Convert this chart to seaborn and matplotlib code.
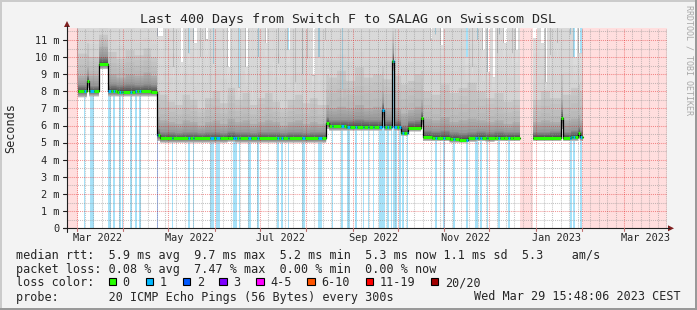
import numpy as np
import pandas as pd
import matplotlib
matplotlib.use("Agg")
import matplotlib.pyplot as plt
import seaborn as sns
from matplotlib.patches import Rectangle, Polygon
from matplotlib.collections import LineCollection
from matplotlib.colors import to_rgb

sns.set_style("white")
plt.rcParams['font.family'] = ['DejaVu Sans Mono', 'DejaVu Sans']

# ---------------- data ----------------
START = "2022-02-22 15:48:06"
TOTAL_DAYS = 400

# smoke / median nodes (day offset from START), step-wise
node_day = [7.3, 13.3, 14.7, 21.3, 27.3, 33, 39, 45, 51, 56,
            60, 62, 67, 72, 77, 82, 87, 92, 97, 102, 107, 112, 117, 122, 127, 132, 137, 142, 147, 152, 157, 162, 167,
            172.7, 174.7, 180, 186, 192, 198, 204, 210, 211.3, 216.7, 218, 222.7, 227.3, 232, 236, 237.3,
            243, 249, 255, 261, 267, 273, 279, 285, 291, 297, 302,
            310.7, 316, 322, 329.3, 330.7, 336, 340.7, 342, 344]
node_med = [8.0, 8.6, 8.0, 9.6, 8.02, 7.98, 7.98, 8.0, 8.0, 7.98,
            5.42, 5.25, 5.25, 5.25, 5.25, 5.25, 5.25, 5.25, 5.25, 5.25, 5.3, 5.25, 5.25, 5.25, 5.25, 5.25, 5.25, 5.25, 5.25, 5.25, 5.25, 5.25, 5.25,
            6.15, 5.95, 5.95, 5.92, 5.92, 5.92, 5.92, 6.9, 5.9, 9.75, 5.9, 5.58, 5.88, 5.88, 6.45, 5.35,
            5.3, 5.3, 5.2, 5.18, 5.25, 5.3, 5.25, 5.3, 5.28, 5.3, np.nan,
            5.3, 5.3, 5.3, 6.45, 5.3, 5.35, 5.55, 5.35, np.nan]
node_min = [7.65, 8.2, 7.7, 9.3, 7.7, 7.7, 7.7, 7.7, 7.7, 7.7,
            5.1, 5.0, 5.0, 5.0, 5.0, 5.0, 5.0, 5.0, 5.0, 5.0, 5.05, 5.0, 5.0, 5.0, 5.0, 5.0, 5.0, 5.0, 5.0, 5.0, 5.0, 5.0, 5.0,
            5.8, 5.7, 5.7, 5.7, 5.7, 5.7, 5.7, 6.3, 5.7, 9.2, 5.7, 5.4, 5.65, 5.65, 6.0, 5.1,
            5.1, 5.1, 5.0, 5.0, 5.05, 5.1, 5.05, 5.1, 5.1, 5.1, np.nan,
            5.1, 5.1, 5.1, 5.8, 5.1, 5.1, 5.2, 5.1, np.nan]
node_q60 = [8.35, 8.9, 8.3, 10.0, 8.4, 8.35, 8.4, 8.35, 8.4, 8.35,
            5.8, 5.6, 5.6, 5.55, 5.6, 5.6, 5.55, 5.6, 5.6, 5.55, 5.65, 5.6, 5.6, 5.55, 5.6, 5.6, 5.6, 5.55, 5.6, 5.6, 5.55, 5.6, 5.6,
            6.5, 6.3, 6.3, 6.3, 6.35, 6.3, 6.3, 7.3, 6.3, 10.2, 6.3, 6.0, 6.25, 6.3, 6.8, 5.7,
            5.65, 5.7, 5.6, 5.55, 5.6, 5.65, 5.6, 5.65, 5.6, 5.6, np.nan,
            5.6, 5.6, 5.65, 6.9, 5.6, 5.7, 5.9, 5.7, np.nan]
node_q75 = [8.9, 9.4, 8.9, 10.6, 9.0, 8.8, 9.0, 8.9, 9.1, 8.9,
            6.5, 6.3, 6.2, 6.1, 6.3, 6.2, 6.0, 6.2, 6.3, 6.1, 6.4, 6.2, 6.3, 6.1, 6.2, 6.3, 6.2, 6.0, 6.2, 6.3, 6.1, 6.2, 6.1,
            7.2, 7.0, 7.1, 7.0, 7.2, 7.0, 7.1, 8.0, 7.0, 10.8, 7.0, 6.7, 6.9, 7.1, 7.5, 6.4,
            6.3, 6.5, 6.2, 6.3, 6.4, 6.3, 6.2, 6.3, 6.1, 6.2, np.nan,
            6.2, 6.3, 6.2, 7.5, 6.3, 6.4, 6.6, 6.3, np.nan]
node_q90 = [10.2, 10.8, 10.0, 11.3, 10.3, 9.9, 10.4, 10.1, 10.5, 10.0,
            8.0, 7.8, 7.4, 7.2, 7.8, 7.5, 7.0, 7.6, 8.0, 7.3, 8.2, 7.5, 7.9, 7.2, 7.6, 7.9, 7.4, 7.0, 7.5, 7.8, 7.3, 7.6, 7.2,
            9.0, 8.8, 9.2, 8.6, 9.4, 8.8, 9.0, 9.5, 8.7, 11.5, 8.9, 8.4, 8.6, 9.0, 9.2, 8.0,
            7.8, 8.4, 7.9, 8.2, 8.5, 8.0, 7.6, 7.9, 7.4, 7.5, np.nan,
            7.5, 8.0, 7.6, 9.0, 7.8, 8.2, 8.4, 8.0, np.nan]

# where the slowest ping stays below the top of the graph: (day, length in days, max ms)
gap_day = [60.0, 65.3, 67.3, 70.7, 75.3, 80.7, 84.0, 88.7, 92.0, 97.3, 103.3, 106.7, 114.0, 118.7, 123.3,
           127.3, 132.0, 137.3, 140.7, 146.7, 152.0, 156.7, 160.0, 163.3, 167.3, 172.0, 183.3,
           242.0, 245.3, 248.7, 265.3, 270.0, 273.3, 276.7, 280.0, 283.3, 286.7, 288.0, 290.7, 296.7, 298.7,
           310.7, 315.3, 318.7, 322.0, 326.7, 335.3, 337.3, 340.7]
gap_len = [4.0, 1.3, 0.7, 0.7, 2.0, 1.3, 2.7, 0.7, 2.0, 0.7, 0.7, 2.0, 1.3, 2.0, 0.7,
           0.7, 1.3, 0.7, 0.7, 2.0, 0.7, 0.7, 0.7, 2.0, 1.3, 0.7, 0.7,
           1.3, 0.7, 2.0, 2.0, 0.7, 0.7, 2.0, 2.0, 2.0, 0.7, 0.7, 2.7, 0.7, 2.0,
           2.7, 3.3, 1.3, 0.7, 0.7, 0.7, 2.7, 2.7]
gap_max = [11.2, 10.4, 11.0, 9.4, 9.7, 10.2, 10.8, 10.0, 11.0, 9.6, 10.4, 9.4, 8.2, 9.4, 8.1,
           10.0, 10.8, 9.7, 9.6, 10.4, 8.5, 9.0, 9.9, 8.9, 10.0, 11.0, 8.1,
           11.0, 11.3, 10.7, 10.0, 9.4, 11.0, 10.4, 9.1, 8.8, 10.2, 11.3, 10.8, 10.2, 10.4,
           11.1, 10.8, 8.5, 10.1, 10.8, 11.3, 10.0, 10.2]

# packet-loss periods with 1 lost ping (day, length)
loss1_day = [11.3, 15.3, 27.1, 30.7, 34.9, 36.7, 42.0, 45.3, 48.2,
             69.8, 80.9, 84.2, 95.3, 99.3, 110.7, 114.7, 120.7, 126.5, 140.2, 142.5, 147.1, 156.5, 167.5,
             176.5, 182.5, 186.5, 192.0, 197.1, 200.9, 204.2, 208.2, 213.1, 215.8, 217.5, 221.5, 223.3, 226.5,
             245.3, 250.9, 257.5, 266.0, 272.0, 275.3, 279.8, 287.5, 294.2, 335.3, 337.5, 342.0]
loss1_len = [1.0, 2.7, 2.4, 1.3, 0.9, 0.7, 1.3, 1.3, 1.1,
             0.7, 1.1, 0.7, 2.7, 2.7, 2.7, 0.7, 1.8, 1.3, 1.3, 1.3, 1.1, 2.2, 2.5,
             1.1, 1.8, 2.2, 1.1, 0.9, 0.7, 0.7, 3.8, 1.8, 0.9, 2.3, 0.9, 1.5, 1.1,
             1.1, 1.1, 1.1, 1.1, 2.2, 1.1, 1.1, 1.1, 1.1, 1.1, 1.1, 1.1]
loss2_day = [59.8]
loss2_len = [0.6]

# periods without data (day, length)
unknown_day = [0.0, 302.0, 344.0]
unknown_len = [7.3, 8.7, 56.0]

y_ticks = [0, 1, 2, 3, 4, 5, 6, 7, 8, 9, 10, 11]
y_tick_labels = ["0", "1 m", "2 m", "3 m", "4 m", "5 m", "6 m", "7 m", "8 m", "9 m", "10 m", "11 m"]
x_label_dates = ["2022-03-15", "2022-05-15", "2022-07-15", "2022-09-15", "2022-11-15", "2023-01-15", "2023-03-15"]
x_labels = ["Mar 2022", "May 2022", "Jul 2022", "Sep 2022", "Nov 2022", "Jan 2023", "Mar 2023"]

loss_names = ["0", "1", "2", "3", "4-5", "6-10", "11-19", "20/20"]
loss_colors = ["#26ff00", "#00b8ff", "#0059ff", "#7e00ff", "#ff00ff", "#ff5500", "#ff0000", "#a10000"]

title = "Last 400 Days from Switch F to SALAG on Swisscom DSL"
stats1 = "median rtt:  5.9 ms avg  9.7 ms max  5.2 ms min  5.3 ms now 1.1 ms sd  5.3    am/s"
stats2 = "packet loss: 0.08 % avg  7.47 % max  0.00 % min  0.00 % now"
probe = "probe:       20 ICMP Echo Pings (56 Bytes) every 300s"
stamp = "Wed Mar 29 15:48:06 2023 CEST"

# ---------------- figure ----------------
W, H = 697, 310
fig = plt.figure(figsize=(W / 100, H / 100), dpi=100)
fig.patch.set_facecolor('#f3f3f3')

X0, X1 = 67, 667
YB, YT = 228.3, 28.3
YMAX = 11.68
ax = fig.add_axes([X0 / W, 1 - YB / H, (X1 - X0) / W, (YB - YT) / H])
ax.set_xlim(0, TOTAL_DAYS)
ax.set_ylim(0, YMAX)
ax.axis('off')
ax.add_patch(Rectangle((0, 0), TOTAL_DAYS, YMAX, color='white', zorder=0, lw=0))

start = pd.Timestamp(START)
def dayof(s):
    return (pd.Timestamp(s) - start) / pd.Timedelta(days=1)

# unknown (pink)
for d, l in zip(unknown_day, unknown_len):
    ax.add_patch(Rectangle((d, 0), l, YMAX, color='#ffdede', lw=0, zorder=1))
# loss stripes
for d, l in zip(loss1_day, loss1_len):
    ax.add_patch(Rectangle((d, 0), l, YMAX, color='#a6e1f8', lw=0, zorder=2))
for d, l in zip(loss2_day, loss2_len):
    ax.add_patch(Rectangle((d, 0), l, YMAX, color='#9fb6f2', lw=0, zorder=2))

# smoke on a fine grid
nd = np.array(node_day)
t = np.arange(nd[0], nd[-1], 0.05)
idx = np.clip(np.searchsorted(nd, t, side='right') - 1, 0, len(nd) - 1)
med = np.array(node_med)[idx]
smin = np.array(node_min)[idx]
q60 = np.array(node_q60)[idx]
q75 = np.array(node_q75)[idx]
q90 = np.array(node_q90)[idx]
smax = np.full_like(t, 13.0)
for d, l, m in zip(gap_day, gap_len, gap_max):
    smax[(t >= d) & (t < d + l)] = m
smax[np.isnan(med)] = np.nan
q90 = np.minimum(q90, smax)
q75 = np.minimum(q75, smax)

def mix(c1, c2, f):
    a, b = np.array(to_rgb(c1)), np.array(to_rgb(c2))
    return tuple(a + (b - a) * f)

bands = [(smin, med, '#c4c4c4', '#5a5a5a'),
         (med, q60, '#4a4a4a', '#8c8c8c'),
         (q60, q75, '#959595', '#b0b0b0'),
         (q75, q90, '#b8b8b8', '#c9c9c9'),
         (q90, smax, '#d3d3d3', '#dddddd')]
NSUB = 4
# each layer is painted from its lower edge up to the top of the smoke; the next one covers it
for lo, hi, c_lo, c_hi in bands:
    for j in range(NSUB):
        a = lo + (hi - lo) * j / NSUB
        ax.fill_between(t, a, smax, step='post', color=mix(c_lo, c_hi, (j + 0.5) / NSUB),
                        lw=0, zorder=3)

# grid
months = pd.date_range("2022-03-01", "2023-04-01", freq="MS")
mdays = [dayof(m) for m in months]
gkw = dict(lw=0.75, ls=(0, (1, 1)), zorder=4)
for i in range(len(mdays) - 1):
    k = 1
    while mdays[i] + 5.6 * k < mdays[i + 1] - 1:
        x = mdays[i] + 5.6 * k
        if x < TOTAL_DAYS:
            ax.axvline(x, color='#8c8c8c', alpha=0.5, **gkw)
        k += 1
for y in np.arange(0.5, YMAX, 1.0):
    ax.axhline(y, color='#8c8c8c', alpha=0.5, **gkw)
for x in mdays:
    if x < TOTAL_DAYS:
        ax.axvline(x, color='#e00000', alpha=0.4, **gkw)
for y in y_ticks[1:]:
    ax.axhline(y, color='#e00000', alpha=0.4, **gkw)

# median: black step line then coloured line by loss
segs = []
cur = []
for d, m in zip(node_day, node_med):
    if np.isnan(m):
        if cur:
            cur.append((d, cur[-1][1]))
            segs.append(cur)
        cur = []
    else:
        cur.append((d, m))
for s in segs:
    df = pd.DataFrame(s, columns=['day', 'rtt'])
    sns.lineplot(data=df, x='day', y='rtt', drawstyle='steps-post', color='black', lw=0.9,
                 ax=ax, zorder=5, estimator=None, sort=False)
ax.set_xlim(0, TOTAL_DAYS)
ax.set_ylim(0, YMAX)
ax.axis('off')

lossflag = np.zeros_like(t, dtype=int)
for d, l in zip(loss1_day, loss1_len):
    lossflag[(t >= d) & (t < d + l)] = 1
for d, l in zip(loss2_day, loss2_len):
    lossflag[(t >= d) & (t < d + l)] = 2
lines, cols = [], []
i = 0
n = len(t)
while i < n:
    if np.isnan(med[i]):
        i += 1
        continue
    j = i
    while j + 1 < n and med[j + 1] == med[i] and lossflag[j + 1] == lossflag[i]:
        j += 1
    x_end = t[j] + 0.05
    lines.append([(t[i], med[i]), (x_end, med[i])])
    cols.append(loss_colors[lossflag[i]])
    i = j + 1
ax.add_collection(LineCollection(lines, colors=cols, linewidths=2.2, capstyle='butt', zorder=6))

# ---------------- overlay in pixel coordinates ----------------
ov = fig.add_axes([0, 0, 1, 1], zorder=10)
ov.set_xlim(0, W)
ov.set_ylim(H, 0)
ov.axis('off')
ov.patch.set_alpha(0)

def px(d):
    return X0 + d * (X1 - X0) / TOTAL_DAYS

# frame
ov.add_patch(Rectangle((0, 0), W, 2, color='#cbcbcb', lw=0))
ov.add_patch(Rectangle((0, 0), 2, H, color='#cbcbcb', lw=0))
ov.add_patch(Rectangle((0, H - 2), W, 2, color='#999999', lw=0))
ov.add_patch(Rectangle((W - 2, 0), 2, H, color='#999999', lw=0))

# axes
ov.plot([X0, X0], [YB + 4, 26], color='#1f1f1f', lw=0.8)
ov.plot([X0 - 4, X1 + 2], [YB, YB], color='#1f1f1f', lw=0.8)
ov.add_patch(Polygon([(X0 - 3, 27), (X0 + 3, 27), (X0, 21)], closed=True, color='#7f1f1f', lw=0))
ov.add_patch(Polygon([(X1 + 1, YB - 3), (X1 + 1, YB + 3), (X1 + 7, YB)], closed=True, color='#7f1f1f', lw=0))
for y in y_ticks:
    yp = YB - y * (YB - YT) / YMAX
    ov.plot([X0 - 4, X0], [yp, yp], color='#1f1f1f', lw=0.8)
for x in mdays:
    if x < TOTAL_DAYS:
        ov.plot([px(x), px(x)], [YB, YB + 3], color='#c07070', lw=0.8)

# tick labels
for y, lab in zip(y_ticks, y_tick_labels):
    yp = YB - y * (YB - YT) / YMAX
    ov.text(59.5, yp + 3.7, lab, ha='right', va='baseline', fontsize=7.4)
for d, lab in zip(x_label_dates, x_labels):
    ov.text(px(dayof(d)), 240.7, lab, ha='center', va='baseline', fontsize=7.4)

ov.text(347.8, 23.3, title, ha='center', va='baseline', fontsize=9.6)
ov.text(10.5, 128, "Seconds", rotation=90, ha='center', va='center', fontsize=8.5)
ov.text(688.5, 60, "RRDTOOL / TOBI OETIKER", rotation=270, ha='center', va='center',
        fontsize=6.0, color='#a8a8a8')

# legend
ov.text(16, 258.5, stats1, ha='left', va='baseline', fontsize=8.5)
ov.text(16, 272.5, stats2, ha='left', va='baseline', fontsize=8.5)
ov.text(16, 286.5, "loss color:", ha='left', va='baseline', fontsize=8.5)
box_x = [108.7, 145.7, 182.7, 219.3, 256.0, 307.3, 365.7, 430.7]
for bx, name, c in zip(box_x, loss_names, loss_colors):
    ov.add_patch(Rectangle((bx, 277.5), 7.5, 7.5, facecolor=c, edgecolor='black', lw=0.8))
    ov.text(bx + 14, 286.5, name, ha='left', va='baseline', fontsize=8.5)
ov.text(16, 300.5, probe, ha='left', va='baseline', fontsize=8.5)
ov.text(681, 300.5, stamp, ha='right', va='baseline', fontsize=8.5)

fig.savefig("out.png", dpi=100, facecolor=fig.get_facecolor())
